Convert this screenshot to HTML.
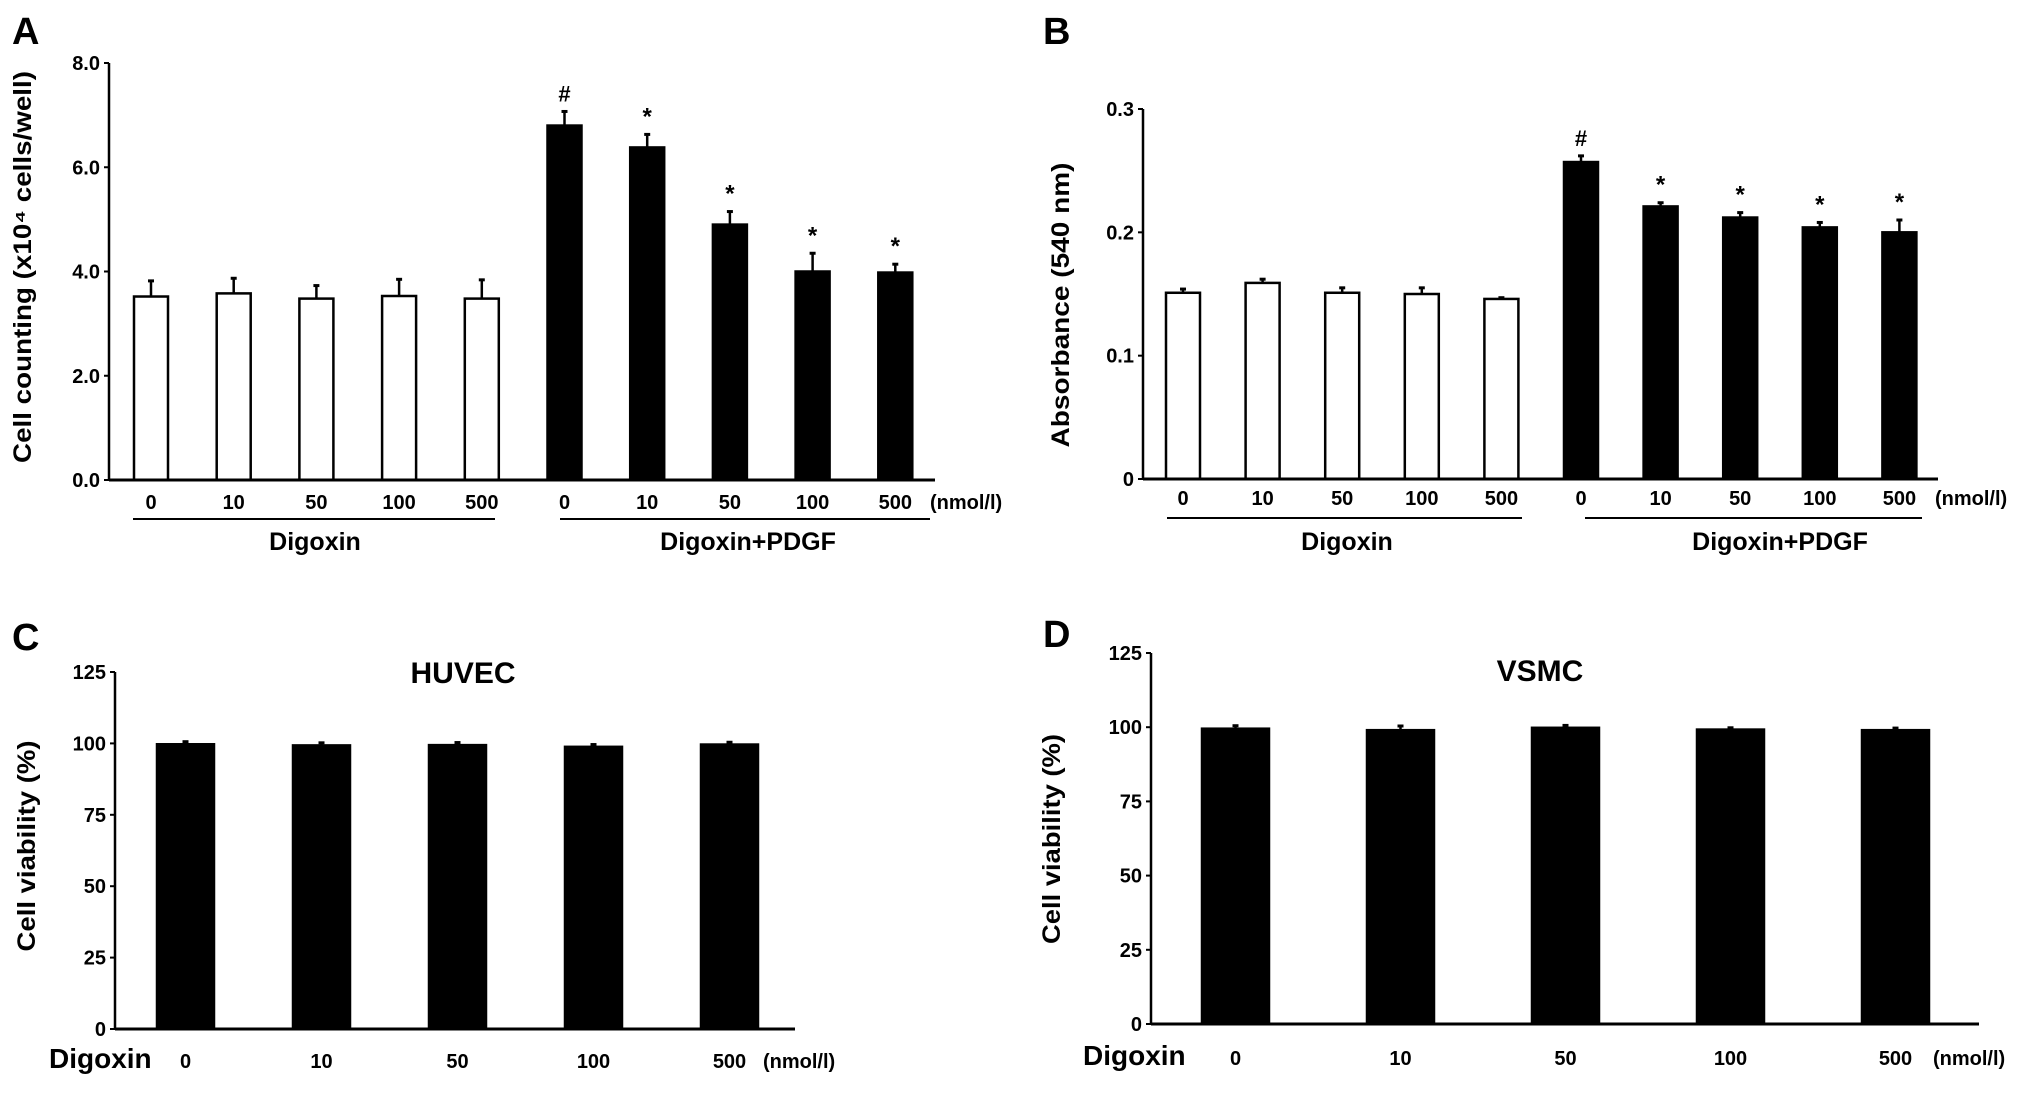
<!DOCTYPE html>
<html><head><meta charset="utf-8"><style>
html,body{margin:0;padding:0;background:#fff;}
svg{display:block;}
text{font-family:"Liberation Sans",sans-serif;font-weight:bold;fill:#000;}
.n{font-family:"Liberation Sans Narrow","Liberation Sans",sans-serif;}
</style></head><body>
<svg id="fig" width="2031" height="1094" viewBox="0 0 2031 1094" xmlns="http://www.w3.org/2000/svg"></svg>
<script>
// ---- data ----
const catsAB = ["0","10","50","100","500","0","10","50","100","500"];
const catsCD = ["0","10","50","100","500"];
const aValues = [3.52,3.58,3.48,3.53,3.48,6.80,6.38,4.90,4.00,3.98];
const aErrTop = [3.82,3.87,3.73,3.85,3.84,7.07,6.63,5.15,4.35,4.14];
const aMarks  = ["","","","","","#","*","*","*","*"];
const aTicks  = ["0.0","2.0","4.0","6.0","8.0"];
const aTickVals = [0,2,4,6,8];
const bValues = [0.151,0.159,0.151,0.150,0.146,0.257,0.221,0.212,0.204,0.200];
const bErrTop = [0.154,0.162,0.155,0.155,0.147,0.262,0.224,0.216,0.208,0.210];
const bMarks  = ["","","","","","#","*","*","*","*"];
const bTicks  = ["0","0.1","0.2","0.3"];
const bTickVals = [0,0.1,0.2,0.3];
const cValues = [99.7,99.3,99.4,98.8,99.6];
const cErrTop = [100.6,100.2,100.3,99.6,100.4];
const dValues = [99.5,99.0,99.8,99.2,99.0];
const dErrTop = [100.5,100.4,100.6,99.8,99.7];
const cdTicks = ["0","25","50","75","100","125"];
const cdTickVals = [0,25,50,75,100,125];
const fills = ["#fff","#fff","#fff","#fff","#fff","#000","#000","#000","#000","#000"];

const NS="http://www.w3.org/2000/svg";
const svg=document.getElementById('fig');
function mk(tag,attrs,parent,txt){
  const e=document.createElementNS(NS,tag);
  for(const k in attrs) e.setAttribute(k,attrs[k]);
  if(txt!==undefined) e.textContent=txt;
  (parent||svg).appendChild(e);
  return e;
}

function panel(p){
  const g=mk('g',{});
  
  
  const yS=v=>p.y0+(v-p.vmin)/(p.vmax-p.vmin)*(p.y1-p.y0);
  const xS=i=>p.x0c+i*p.step;
  // bars
  p.values.forEach((v,i)=>{
    const cx=xS(i), top=yS(v), et=yS(p.err[i]);
    const fill=p.fills?p.fills[i]:"#000";
    const el=mk('line',{x1:cx,x2:cx,y1:top,y2:et,stroke:'#000','stroke-width':2.5},g);
    
    
    const cap=mk('line',{x1:cx-3,x2:cx+3,y1:et,y2:et,stroke:'#000','stroke-width':3},g);
    
    
    const r=mk('rect',{x:cx-p.bw/2,y:top,width:p.bw,height:p.y0-top,fill:fill,stroke:'#000','stroke-width':2.5},g);
    
    
    if(p.marks && p.marks[i]){
      const t=mk('text',{x:cx,y:et-10,'text-anchor':'middle','font-size':p.marks[i]=="#"?22:24,class:'n'},g,p.marks[i]);
      
      
    }
    const tl=mk('text',{x:cx,y:p.tickY,'text-anchor':'middle','font-size':20,class:'n'},g,p.cats[i]);
    
    
  });
  // axes
  const ya=mk('line',{x1:p.ax,x2:p.ax,y1:p.y1,y2:p.y0+1,stroke:'#000','stroke-width':2.5},g);
  
  
  const xa=mk('line',{x1:p.ax,x2:p.axEnd,y1:p.y0,y2:p.y0,stroke:'#000','stroke-width':3},g);
  
  
  p.tickVals.forEach((v,i)=>{
    const y=yS(v);
    mk('line',{x1:p.ax-5,x2:p.ax,y1:y,y2:y,stroke:'#000','stroke-width':2},g);
    const t=mk('text',{x:p.ax-9,y:y+7,'text-anchor':'end','font-size':20,class:'n'},g,p.ticks[i]);
    
    
  });
  // y title
  const yt=mk('text',{x:0,y:0,'text-anchor':'middle','font-size':25,transform:`translate(${p.ytX},${p.ytY}) rotate(-90)`,textLength:p.ytLen,lengthAdjust:'spacingAndGlyphs'},g,p.ytitle);
  
  
  // panel letter
  const pl=mk('text',{x:p.lx,y:p.ly,'font-size':38},g,p.letter);
  
  
  // unit
  const u=mk('text',{x:p.unitX,y:p.tickY,'font-size':20,class:'n'},g,'(nmol/l)');
  
  
  return g;
}

const A=panel({name:'panel-a-chart',letter:'A',lx:12,ly:44,values:aValues,err:aErrTop,marks:aMarks,fills:fills,cats:catsAB,
  ticks:aTicks,tickVals:aTickVals,vmin:0,vmax:8,y0:480,y1:63,ax:109,axEnd:935,x0c:151,step:82.7,bw:34,tickY:509,
  ytitle:'Cell counting (x10\u2074 cells/well)',ytX:31,ytY:267,ytLen:392,unitX:930});
[[133,495,'Digoxin',315],[560,930,'Digoxin+PDGF',748]].forEach(a=>{
  const l=mk('line',{x1:a[0],x2:a[1],y1:519,y2:519,stroke:'#000','stroke-width':2},A);
  
  
  const t=mk('text',{x:a[3],y:550,'text-anchor':'middle','font-size':25,class:'n'},A,a[2]);
  
  
});

const B=panel({name:'panel-b-chart',letter:'B',lx:1043,ly:44,values:bValues,err:bErrTop,marks:bMarks,fills:fills,cats:catsAB,
  ticks:bTicks,tickVals:bTickVals,vmin:0,vmax:0.3,y0:479,y1:109,ax:1143,axEnd:1938,x0c:1183,step:79.6,bw:34,tickY:505,
  ytitle:'Absorbance (540 nm)',ytX:1069,ytY:305,ytLen:285,unitX:1935});
[[1167,1522,'Digoxin',1347],[1585,1922,'Digoxin+PDGF',1780]].forEach(a=>{
  const l=mk('line',{x1:a[0],x2:a[1],y1:518,y2:518,stroke:'#000','stroke-width':2},B);
  
  
  const t=mk('text',{x:a[3],y:550,'text-anchor':'middle','font-size':25,class:'n'},B,a[2]);
  
  
});

const C=panel({name:'panel-c-chart',letter:'C',lx:12,ly:650,values:cValues,err:cErrTop,cats:catsCD,
  ticks:cdTicks,tickVals:cdTickVals,vmin:0,vmax:125,y0:1029,y1:672,ax:115,axEnd:795,x0c:185.5,step:136,bw:57,tickY:1068,
  ytitle:'Cell viability (%)',ytX:35,ytY:846,ytLen:211,unitX:763});
const ct=mk('text',{x:463,y:683,'text-anchor':'middle','font-size':30,class:'n'},C,'HUVEC');


const cd=mk('text',{x:49,y:1068,'font-size':28,class:'n'},C,'Digoxin');



const D=panel({name:'panel-d-chart',letter:'D',lx:1043,ly:647,values:dValues,err:dErrTop,cats:catsCD,
  ticks:cdTicks,tickVals:cdTickVals,vmin:0,vmax:125,y0:1024,y1:653,ax:1151,axEnd:1979,x0c:1235.5,step:165,bw:67,tickY:1065,
  ytitle:'Cell viability (%)',ytX:1060,ytY:839,ytLen:210,unitX:1933});
const dt=mk('text',{x:1540,y:681,'text-anchor':'middle','font-size':30,class:'n'},D,'VSMC');


const dd=mk('text',{x:1083,y:1065,'font-size':28,class:'n'},D,'Digoxin');


</script>
</body></html>
